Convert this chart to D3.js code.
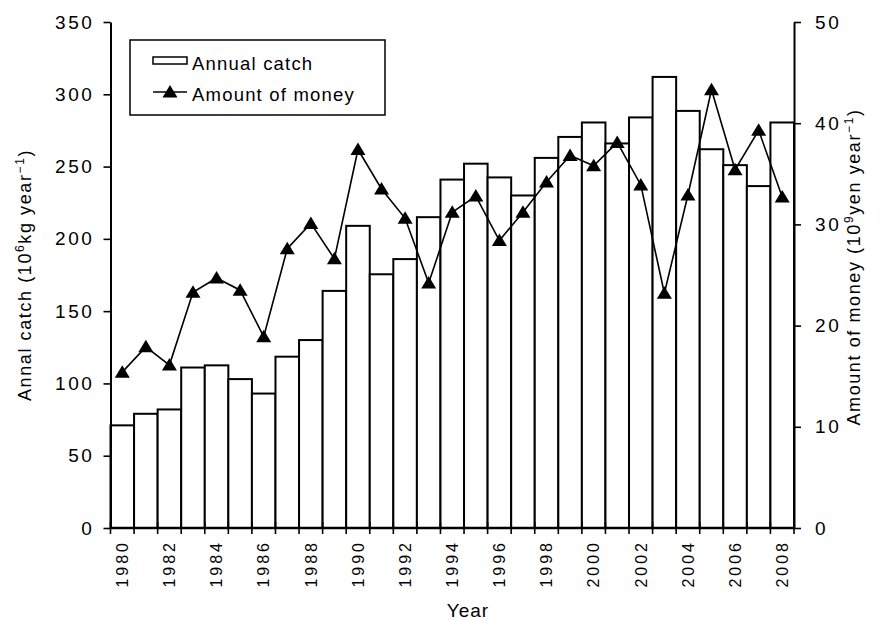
<!DOCTYPE html>
<html><head><meta charset="utf-8">
<script src="https://cdn.jsdelivr.net/npm/d3@7"></script>
<style>
body{margin:0;background:#fff}
svg text{font-family:"Liberation Sans",Arial,sans-serif;fill:#000}
</style>
</head><body>
<svg id="c" width="880" height="621"></svg>
<script>
// ---- data ----
const years = [1980,1981,1982,1983,1984,1985,1986,1987,1988,1989,1990,1991,1992,1993,1994,1995,1996,1997,1998,1999,2000,2001,2002,2003,2004,2005,2006,2007,2008];
const catchVals = [71,79,82,111,112.5,103,93,118.5,130,164,209,175.5,186,215,241,252,242.5,230,256,270.5,280.5,266,284,312,288.5,262,251,236.5,280.5];
const moneyVals = [15.4,17.9,16.1,23.3,24.7,23.5,18.9,27.6,30.1,26.6,37.4,33.5,30.6,24.2,31.2,32.8,28.4,31.2,34.2,36.8,35.8,38.1,33.9,23.2,32.9,43.3,35.4,39.3,32.7];
const yearLabels = ["1980","1982","1984","1986","1988","1990","1992","1994","1996","1998","2000","2002","2004","2006","2008"];
const leftTicks = [0,50,100,150,200,250,300,350];
const rightTicks = [0,10,20,30,40,50];
const legendLabels = ["Annual catch","Amount of money"];

// ---- layout ----
const m = {l:110.5, r:794, t:22, b:528};
const svg = d3.select("#c");
const x = d3.scaleBand().domain(years).range([m.l, m.r]).padding(0);
const bw = x.bandwidth();
const yL = d3.scaleLinear().domain([0,350]).range([m.b, m.t]);
const yR = d3.scaleLinear().domain([0,50]).range([m.b, m.t]);

// bars
svg.append("g").selectAll("rect").data(years).join("rect")
  .attr("x", d => x(d)).attr("y", (d,i) => yL(catchVals[i]))
  .attr("width", bw).attr("height", (d,i) => yL(0) - yL(catchVals[i]))
  .attr("fill", "#fff").attr("stroke", "#000").attr("stroke-width", 2);

// line + markers
const line = d3.line().x((d,i) => x(years[i]) + bw/2).y(d => yR(d));
svg.append("path").datum(moneyVals).attr("d", line)
  .attr("fill", "none").attr("stroke", "#000").attr("stroke-width", 1.6);
const tri = "M0,-7L7.5,5.5L-7.5,5.5Z";
svg.append("g").selectAll("path").data(moneyVals).join("path")
  .attr("d", tri)
  .attr("transform", (d,i) => `translate(${x(years[i]) + bw/2},${yR(d)})`)
  .attr("fill", "#000");

// x axis
const xg = svg.append("g");
xg.append("line").attr("x1", m.l).attr("x2", m.r).attr("y1", m.b).attr("y2", m.b)
  .attr("stroke", "#000").attr("stroke-width", 2.5);
const bounds = years.map(d => x(d)).concat([x(years[years.length-1]) + bw]);
xg.selectAll("line.t").data(bounds).join("line").attr("class","t")
  .attr("x1", d => d).attr("x2", d => d).attr("y1", m.b - 6).attr("y2", m.b + 6)
  .attr("stroke", "#000").attr("stroke-width", 1.6);
xg.selectAll("text").data(yearLabels).join("text")
  .attr("transform", d => `translate(${x(+d) + bw/2},540) rotate(-90)`)
  .attr("text-anchor", "end").attr("dy", "0.36em")
  .attr("font-size", 16).attr("letter-spacing", 3)
  .text(d => d);

// left axis
const gl = svg.append("g").attr("transform", `translate(${m.l},0)`)
  .call(d3.axisLeft(yL).tickValues(leftTicks).tickSize(7).tickSizeOuter(0).tickPadding(9));
gl.select(".domain").attr("stroke-width", 2);
gl.selectAll(".tick line").attr("stroke-width", 1.6);
gl.selectAll(".tick text").attr("font-size", 19).attr("letter-spacing", 2.6)
  .attr("fill", "#000");
gl.attr("font-family", null).attr("font-size", null);

// right axis
const gr = svg.append("g").attr("transform", `translate(${m.r},0)`)
  .call(d3.axisRight(yR).tickValues(rightTicks).tickSize(7).tickSizeOuter(0).tickPadding(14));
gr.select(".domain").attr("stroke-width", 2);
gr.selectAll(".tick line").attr("stroke-width", 1.6);
gr.selectAll(".tick text").attr("font-size", 19).attr("letter-spacing", 2.6)
  .attr("fill", "#000");
gr.attr("font-family", null).attr("font-size", null);

// titles with superscripts
function richTitle(g, parts){
  const t = g.append("text").attr("text-anchor","middle").attr("font-size",18).attr("letter-spacing",1.6);
  let prevSup = false;
  parts.forEach(p => {
    const s = t.append("tspan").text(p[0]);
    if (p[1]) { s.attr("font-size", 12).attr("dy", prevSup ? 0 : -7); prevSup = true; }
    else { if (prevSup) s.attr("dy", 7); prevSup = false; }
  });
  return t;
}
richTitle(svg.append("g").attr("transform", `translate(31,${(m.t+m.b)/2}) rotate(-90)`),
  [["Annal catch (10"],["6",1],["kg year"],["\u22121",1],[")"]]);
richTitle(svg.append("g").attr("transform", `translate(860,${(m.t+m.b)/2 - 8}) rotate(-90)`),
  [["Amount of money (10"],["9",1],["yen year"],["\u22121",1],[")"]]);
svg.append("text").attr("x", 468).attr("y", 617).attr("text-anchor","middle")
  .attr("font-size",19).attr("letter-spacing",1).text("Year");

// legend
const lg = svg.append("g");
lg.append("rect").attr("x",130).attr("y",40).attr("width",255).attr("height",75)
  .attr("fill","#fff").attr("stroke","#000").attr("stroke-width",1.5);
lg.append("rect").attr("x",153).attr("y",57).attr("width",34).attr("height",7)
  .attr("fill","#fff").attr("stroke","#000").attr("stroke-width",1.5);
lg.append("line").attr("x1",153).attr("x2",187).attr("y1",92).attr("y2",92)
  .attr("stroke","#000").attr("stroke-width",1.6);
lg.append("path").attr("d",tri).attr("transform","translate(170,92)").attr("fill","#000");
lg.selectAll("text").data(legendLabels).join("text")
  .attr("x",192).attr("y",(d,i) => i ? 101 : 70)
  .attr("font-size",18.5).attr("letter-spacing",1.2).text(d => d);
</script>
</body></html>
